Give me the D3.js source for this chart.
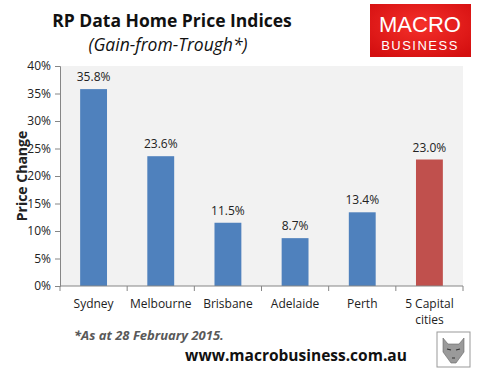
<!DOCTYPE html>
<html>
<head>
<meta charset="utf-8">
<script src="https://cdn.jsdelivr.net/npm/d3@7"></script>
<style>
  body { margin: 0; background: #fff; }
  svg { display: block; font-family: "Open Sans", "DejaVu Sans", sans-serif; }
</style>
</head>
<body>
<div id="chart"></div>
<script>
// data
const cities = ["Sydney", "Melbourne", "Brisbane", "Adelaide", "Perth", "5 Capital cities"];
const gains = [35.8, 23.6, 11.5, 8.7, 13.4, 23.0];
const yTicks = [0, 5, 10, 15, 20, 25, 30, 35, 40];

const W = 486, H = 380;
const plotL = 60, plotR = 463, plotT = 66, plotB = 286;

const svg = d3.select("#chart").append("svg")
    .attr("width", W)
    .attr("height", H);

const x = d3.scaleBand().domain(cities).range([plotL, plotR]).paddingInner(0.6).paddingOuter(0.3);
const xb = d3.scaleBand().domain(cities).range([plotL, plotR]); // for tick positions
const y = d3.scaleLinear().domain([0, 40]).range([plotB, plotT]);

// plot area background
svg.append("rect")
    .attr("x", plotL).attr("y", plotT)
    .attr("width", plotR - plotL).attr("height", plotB - plotT)
    .attr("fill", "#f2f2f2");

// bars
svg.selectAll("rect.bar")
    .data(cities)
    .enter().append("rect")
    .attr("class", "bar")
    .attr("x", d => x(d))
    .attr("width", x.bandwidth())
    .attr("y", (d, i) => y(gains[i]))
    .attr("height", (d, i) => plotB - y(gains[i]))
    .attr("fill", (d, i) => i == cities.length - 1 ? "#c0504d" : "#4f81bd");

// value labels
svg.selectAll("text.val")
    .data(cities)
    .enter().append("text")
    .attr("class", "val")
    .attr("x", d => x(d) + x.bandwidth() / 2)
    .attr("y", (d, i) => y(gains[i]) - 8)
    .attr("text-anchor", "middle")
    .attr("font-size", 12)
    .attr("fill", "#222")
    .text((d, i) => gains[i].toFixed(1) + "%");

// y axis
const yAxis = svg.append("g")
    .attr("transform", `translate(${plotL},0)`)
    .call(d3.axisLeft(y).tickValues(yTicks).tickFormat(d => d + "%").tickSize(5).tickPadding(4));
yAxis.select(".domain").attr("stroke", "#868686");
yAxis.selectAll(".tick line").attr("stroke", "#868686");
yAxis.selectAll(".tick text").attr("font-size", 12).attr("fill", "#222")
    .attr("font-family", "Open Sans, sans-serif");

// x axis line + ticks at band edges
svg.append("line")
    .attr("x1", plotL).attr("x2", plotR)
    .attr("y1", plotB).attr("y2", plotB)
    .attr("stroke", "#868686");
const edges = cities.map(c => xb(c)).concat([plotR]);
svg.selectAll("line.xt")
    .data(edges)
    .enter().append("line")
    .attr("class", "xt")
    .attr("x1", d => d).attr("x2", d => d)
    .attr("y1", plotB).attr("y2", plotB + 5)
    .attr("stroke", "#868686");

// category labels
svg.selectAll("text.cat")
    .data(cities)
    .enter().append("text")
    .attr("class", "cat")
    .attr("x", d => xb(d) + xb.bandwidth() / 2)
    .attr("y", 308)
    .attr("text-anchor", "middle")
    .attr("font-size", 12)
    .attr("fill", "#222")
    .each(function (d) {
        const parts = d == "5 Capital cities" ? ["5 Capital", "cities"] : [d];
        const t = d3.select(this);
        parts.forEach((p, k) => {
            t.append("tspan")
                .attr("x", xb(d) + xb.bandwidth() / 2)
                .attr("dy", k == 0 ? 0 : 16)
                .text(p);
        });
    });

// y axis title
svg.append("text")
    .attr("transform", "translate(27,176) rotate(-90)")
    .attr("text-anchor", "middle")
    .attr("font-size", 14)
    .attr("font-weight", "bold")
    .attr("fill", "#222")
    .text("Price Change");

// titles
svg.append("text")
    .attr("x", 172).attr("y", 27)
    .attr("text-anchor", "middle")
    .attr("font-size", 17.5)
    .attr("font-weight", "bold")
    .attr("fill", "#111")
    .text("RP Data Home Price Indices");
svg.append("text")
    .attr("x", 168).attr("y", 51)
    .attr("text-anchor", "middle")
    .attr("font-size", 17.5)
    .attr("font-style", "italic")
    .attr("fill", "#111")
    .text("(Gain-from-Trough*)");

// logo
const grad = svg.append("defs").append("radialGradient")
    .attr("id", "logoGrad").attr("cx", "50%").attr("cy", "40%").attr("r", "70%");
grad.append("stop").attr("offset", "0%").attr("stop-color", "#f5302a");
grad.append("stop").attr("offset", "100%").attr("stop-color", "#d40f10");
svg.append("rect")
    .attr("x", 370).attr("y", 4)
    .attr("width", 101).attr("height", 53)
    .attr("fill", "url(#logoGrad)");
svg.append("text")
    .attr("x", 420).attr("y", 32)
    .attr("text-anchor", "middle")
    .attr("font-family", "Liberation Sans, Arial, sans-serif")
    .attr("font-size", 22)
    .attr("fill", "#fff")
    .text("MACRO");
svg.append("text")
    .attr("x", 420).attr("y", 50)
    .attr("text-anchor", "middle")
    .attr("font-family", "Liberation Sans, Arial, sans-serif")
    .attr("font-size", 13)
    .attr("letter-spacing", 1.5)
    .attr("fill", "#fff")
    .text("BUSINESS");

// footnote
svg.append("text")
    .attr("x", 74).attr("y", 340)
    .attr("font-size", 13)
    .attr("font-weight", "bold")
    .attr("font-style", "italic")
    .attr("fill", "#595959")
    .text("*As at 28 February 2015.");

svg.append("text")
    .attr("x", 296).attr("y", 361)
    .attr("text-anchor", "middle")
    .attr("font-size", 15.5)
    .attr("font-weight", "bold")
    .attr("fill", "#111")
    .text("www.macrobusiness.com.au");

// little wolf badge (approximation)
const badge = svg.append("g").attr("transform", "translate(437,332)");
badge.append("rect").attr("width", 33).attr("height", 35)
    .attr("fill", "#fff").attr("stroke", "#999");
badge.append("path")
    .attr("d", "M6,6 L11,12 L22,12 L27,6 L27,20 L19,31 L14,31 L6,20 Z")
    .attr("fill", "#9a9a9a").attr("stroke", "#666").attr("stroke-width", 0.6);
badge.append("path")
    .attr("d", "M10,17 L14,18 M23,17 L19,18 M15,26 L18,26")
    .attr("stroke", "#333").attr("stroke-width", 1.2);
</script>
</body>
</html>
